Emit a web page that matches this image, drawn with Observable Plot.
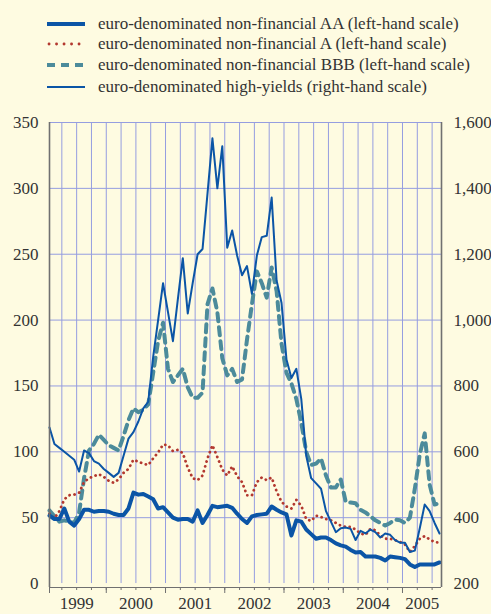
<!DOCTYPE html>
<html>
<head>
<meta charset="utf-8">
<script src="https://cdn.jsdelivr.net/npm/d3@7"></script>
<script src="https://cdn.jsdelivr.net/npm/@observablehq/plot@0.6"></script>
<style>
  html, body { margin: 0; padding: 0; background: #fefbe1; }
  body { width: 491px; height: 614px; overflow: hidden; font-family: "Liberation Serif", "Times New Roman", Tinos, "DejaVu Serif", serif; color: #333; }
  #legend { position: relative; height: 110px; }
  .row { position: absolute; left: 0; height: 20px; display: flex; align-items: center; font-size: 17px; white-space: nowrap; }
  .row svg { margin-left: 47px; margin-right: 13px; }
  #chart svg { display: block; }
  #chart svg text { font-family: "Liberation Serif", "Times New Roman", Tinos, "DejaVu Serif", serif; }
</style>
</head>
<body>
<div id="legend"></div>
<div id="chart"></div>
<script>
// Month index: 0 = January 1999 ... 79 = August 2005
const months = d3.range(80);

// euro-denominated non-financial AA (basis points, left-hand scale)
const aa = [51.6,49,49,57,47,44,49,56,56,54.5,55,55,54.5,53,52,52,57,69,67.5,68,
            66,64,57,58,54,50,48.5,49,49,47,55.5,46,52,59,58,58.5,59,57.5,53,49,
            46,51,52,52.5,53,58.5,56,54,52.5,36.5,48,47,41,37.5,34,35,35,33,30.5,29,
            28,25.5,23.5,24,20.5,20.5,20.5,19.5,17.5,20.5,20,19.5,18.5,14.5,12.5,14.4,14.4,14.4,14.5,16];

// euro-denominated non-financial A (left-hand scale)
const aRating = [53,49.5,55,64,67,67.5,69,77,80,81.5,83,81,78,76.5,79,84,87,94,92.5,91,
            90,95,99.5,105.5,105,100.5,101.5,99,88,80,78.5,82,95,105,96,86.5,82,89,81.5,77,
            67,67,77,80.5,78.5,80.5,70,62,58.5,57,63.5,59,49,47.5,51.5,50.5,49,48,46,44,
            43,43,41,38,37,41.5,40.5,36.5,34,34,33,31.5,29.6,24,28.5,34,36,33.5,31.5,31];

// euro-denominated non-financial BBB (left-hand scale)
const bbb = [55.5,51,47,48,47,46,54,80,101,106,113,109,105,103,101,112,124,133,130,132,
            136,160,184,198,163,153,158,163,149,141,141,145,212,224,206,171,158,163,153,155,
            185,212,237,228,217,240,222,182,160,152,140,122,100,90,91,95,82,73,73,79,
            62,61.5,61,56,54,51,48,46,44,46,48.5,48,46,50,72,98,114,75,60,61];

// euro-denominated high-yields (right-hand scale)
const hy = [674,624,612,600,588,576,540,604,596,572,564,548,536,524,536,588,640,660,692,732,
            752,888,1000,1112,1024,936,1064,1188,1020,1112,1200,1216,1384,1552,1400,1528,1220,1272,1196,1136,
            1164,1080,1196,1252,1256,1372,1120,1052,880,824,852,760,588,520,504,488,420,388,356,368,
            370,366,332,360,352,364,356,340,352,348,332,324,324,296,300,368,440,420,384,352];

const yearLabels = ["1999","2000","2001","2002","2003","2004","2005"];
const yearLabelPos = [5.5,17.5,29.5,41.5,53.5,65.5,75.5];
const quarterTicks = d3.range(2.5, 79, 3);
const yearTicks = [0, 11.5, 23.5, 35.5, 47.5, 59.5, 71.5];
const leftTicks = [0,50,100,150,200,250,300,350];

const seriesNames = [
  "euro-denominated non-financial AA (left-hand scale)",
  "euro-denominated non-financial A (left-hand scale)",
  "euro-denominated non-financial BBB (left-hand scale)",
  "euro-denominated high-yields (right-hand scale)"
];

const BLUE = "#0b55a6", RED = "#b3382f", TEAL = "#4c8b9b", GRID = "#959de0", AXIS = "#707070";
const FONT = "'Liberation Serif', 'Times New Roman', Tinos, 'DejaVu Serif', serif";
const styles = [
  {stroke: BLUE, width: 4, dash: null, cap: "butt"},
  {stroke: RED, width: 2.8, dash: "0.1,7.4", cap: "round"},
  {stroke: TEAL, width: 4, dash: "8,6", cap: "butt"},
  {stroke: BLUE, width: 2, dash: null, cap: "butt"}
];

// Legend
const legend = document.getElementById("legend");
const rowTops = [14, 34, 55, 77];
seriesNames.forEach((name, i) => {
  const s = styles[i];
  const row = document.createElement("div");
  row.className = "row";
  row.style.top = rowTops[i] + "px";
  row.innerHTML = `<svg width="38" height="10"><line x1="${s.cap === "round" ? 2 : 0}" x2="38" y1="5" y2="5" stroke="${s.stroke}" stroke-width="${s.width}" ${s.dash ? `stroke-dasharray="${s.dash}"` : ""} stroke-linecap="${s.cap}"/></svg><span>${name}</span>`;
  legend.appendChild(row);
});

const rows = months.map((m, i) => ({m, aa: aa[i], a: aRating[i], bbb: bbb[i], hy: hy[i]}));
const hyToLeft = v => (v - 200) / 4;

const chart = Plot.plot({
  width: 491,
  height: 504,
  marginTop: 12,
  marginBottom: 27,
  marginLeft: 49,
  marginRight: 50,
  style: {background: "transparent", fontFamily: FONT, fontSize: "17px", color: "#333", overflow: "visible"},
  x: {domain: [0, 79.4], label: null},
  y: {domain: [-3, 350], label: null},
  marks: [
    Plot.ruleX(quarterTicks, {y1: 0, y2: 350, stroke: GRID, strokeWidth: 1}),
    Plot.ruleY(leftTicks.slice(1), {stroke: GRID, strokeWidth: 1}),
    Plot.line(rows, {x: "m", y: "bbb", stroke: TEAL, strokeWidth: 4, strokeDasharray: "8,6"}),
    Plot.line(rows, {x: "m", y: "a", stroke: RED, strokeWidth: 2.8, strokeDasharray: "0.1,4.9", strokeLinecap: "round"}),
    Plot.line(rows, {x: "m", y: d => hyToLeft(d.hy), stroke: BLUE, strokeWidth: 2}),
    Plot.line(rows, {x: "m", y: "aa", stroke: BLUE, strokeWidth: 4, strokeLinejoin: "round"}),
    Plot.ruleX([0], {y1: -3, y2: 350, stroke: AXIS, strokeWidth: 1.6}),
    Plot.ruleX([79.4], {y1: -3, y2: 350, stroke: AXIS, strokeWidth: 1.6}),
    Plot.ruleY([-3], {stroke: AXIS, strokeWidth: 1.2}),
    Plot.axisX({ticks: quarterTicks, tickSize: 3, tickFormat: () => "", stroke: AXIS, label: null}),
    Plot.axisX({ticks: yearTicks, tickSize: 6, tickFormat: () => "", stroke: AXIS, label: null}),
    Plot.axisX({ticks: yearLabelPos, tickSize: 0, tickPadding: 9, tickFormat: (d, i) => yearLabels[i], fill: "#333", label: null}),
    Plot.axisY({anchor: "left", ticks: leftTicks, tickSize: 0, tickPadding: 11, tickFormat: d => String(d), fill: "#333", label: null}),
    Plot.axisY({anchor: "right", ticks: leftTicks, tickSize: 0, tickPadding: 12, tickFormat: d => d3.format(",")(200 + 4 * d), fill: "#333", label: null})
  ]
});
document.getElementById("chart").appendChild(chart);
</script>
</body>
</html>
